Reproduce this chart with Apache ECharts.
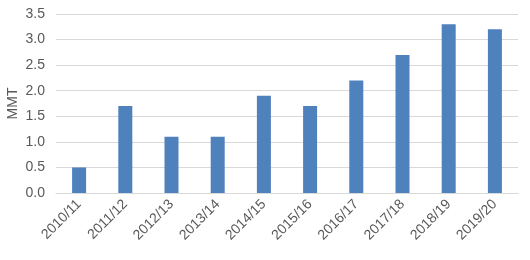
<!DOCTYPE html>
<html><head><meta charset="utf-8">
<script src="https://cdn.jsdelivr.net/npm/echarts@6/dist/echarts.min.js"></script>
<style>html,body{margin:0;padding:0;background:#fff}#c{width:530px;height:260px}</style>
</head><body><div id="c"></div>
<script>
const categories = ['2010/11','2011/12','2012/13','2013/14','2014/15','2015/16','2016/17','2017/18','2018/19','2019/20'];
const values = [0.5, 1.7, 1.1, 1.1, 1.9, 1.7, 2.2, 2.7, 3.3, 3.2];
const chart = echarts.init(document.getElementById('c'), null, {renderer:'canvas'});
chart.setOption({
  animation: false,
  grid: {left: 56, right: 12, top: 14, bottom: 67, containLabel: false, outerBoundsMode: 'none'},
  xAxis: {
    type: 'category', data: categories,
    axisLine: {lineStyle: {color: '#d9d9d9', width: 1}},
    axisTick: {show: false},
    axisLabel: {rotate: 45, color: '#595959', fontFamily: 'Liberation Sans, Arial', fontSize: 14, margin: 9, interval: 0}
  },
  yAxis: {
    type: 'value', min: 0, max: 3.5, interval: 0.5,
    name: 'MMT', nameLocation: 'middle', nameGap: 36, nameRotate: 90, nameMoveOverlap: false,
    nameTextStyle: {color: '#595959', fontFamily: 'Liberation Sans, Arial', fontSize: 14},
    axisLine: {show: false}, axisTick: {show: false},
    splitLine: {lineStyle: {color: '#d9d9d9', width: 1}},
    axisLabel: {color: '#595959', fontFamily: 'Liberation Sans, Arial', fontSize: 14, margin: 11,
      formatter: v => v.toFixed(1)}
  },
  series: [{type: 'bar', data: values, barWidth: 14, itemStyle: {color: '#4F81BD'}}]
});
</script></body></html>
